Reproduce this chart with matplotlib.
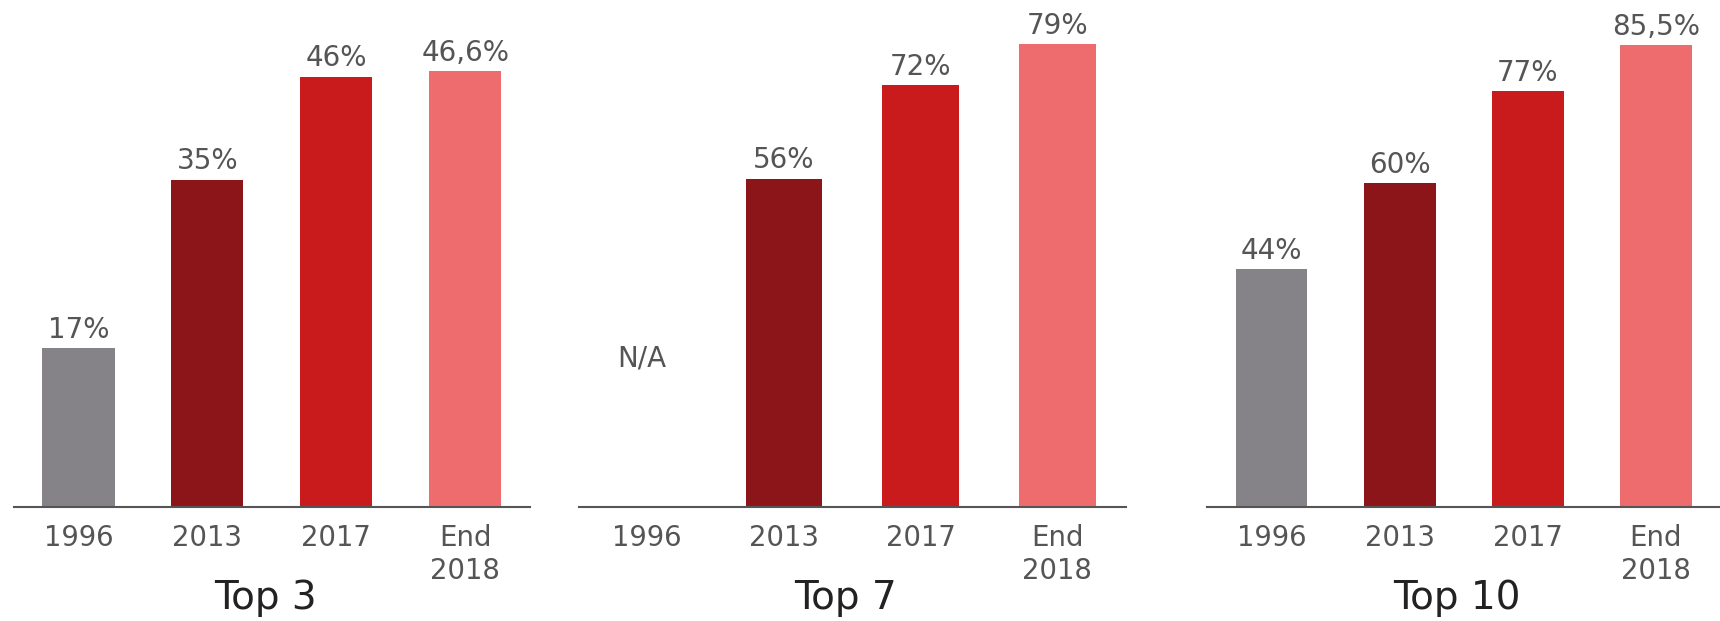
import matplotlib
matplotlib.use("Agg")
import matplotlib.pyplot as plt
import matplotlib.transforms as mtransforms

categories = ["1996", "2013", "2017", "End\n2018"]
panel_titles = ["Top 3", "Top 7", "Top 10"]
top3_values = [17, 35, 46, 46.6]
top7_values = [None, 56, 72, 79]
top10_values = [44, 60, 77, 85.5]
top3_labels = ["17%", "35%", "46%", "46,6%"]
top7_labels = ["N/A", "56%", "72%", "79%"]
top10_labels = ["44%", "60%", "77%", "85,5%"]

bar_colors = ["#858388", "#8C1519", "#C91B1B", "#EE6B6E"]
text_color = "#555555"
title_color = "#222222"

panels = [
    (top3_values, top3_labels, [0.0081, 0.1836, 0.2999, 0.8164], 54.2),
    (top7_values, top7_labels, [0.3365, 0.1836, 0.3180, 0.8164], 86.5),
    (top10_values, top10_labels, [0.7020, 0.1836, 0.2980, 0.8164], 93.9),
]

fig = plt.figure(figsize=(17.2, 6.21), dpi=100)
fig.patch.set_facecolor("white")

for (vals, labels, rect, ytop), title in zip(panels, panel_titles):
    ax = fig.add_axes(rect)
    xs = list(range(len(categories)))
    for x, v, lab, c in zip(xs, vals, labels, bar_colors):
        if v is None:
            trans = mtransforms.blended_transform_factory(ax.transData, ax.transAxes)
            ax.text(x - 0.04, 0.292, lab, transform=trans, ha="center", va="center",
                    fontsize=20, color=text_color)
            continue
        ax.bar(x, v, width=0.56, color=c, zorder=2)
        ax.annotate(lab, (x, v), xytext=(0, 7.5), textcoords="offset points",
                    ha="center", va="baseline", fontsize=20, color=text_color)
    ax.set_xlim(-0.5, 3.5)
    ax.set_ylim(0, ytop)
    ax.set_xticks(xs)
    ax.set_xticklabels(categories, fontsize=19.8, color=text_color, linespacing=1.2)
    ax.tick_params(axis="x", length=0, pad=12.5)
    ax.set_yticks([])
    for s in ["top", "right", "left"]:
        ax.spines[s].set_visible(False)
    ax.spines["bottom"].set_color("#555555")
    ax.spines["bottom"].set_linewidth(1.5)
    ax.set_facecolor("none")
    trans_t = mtransforms.blended_transform_factory(ax.transData, fig.transFigure)
    ax.text(1.45, 0.02, title, transform=trans_t, ha="center", va="baseline",
            fontsize=28, color=title_color)

fig.savefig("out.png", dpi=100, facecolor="white")
